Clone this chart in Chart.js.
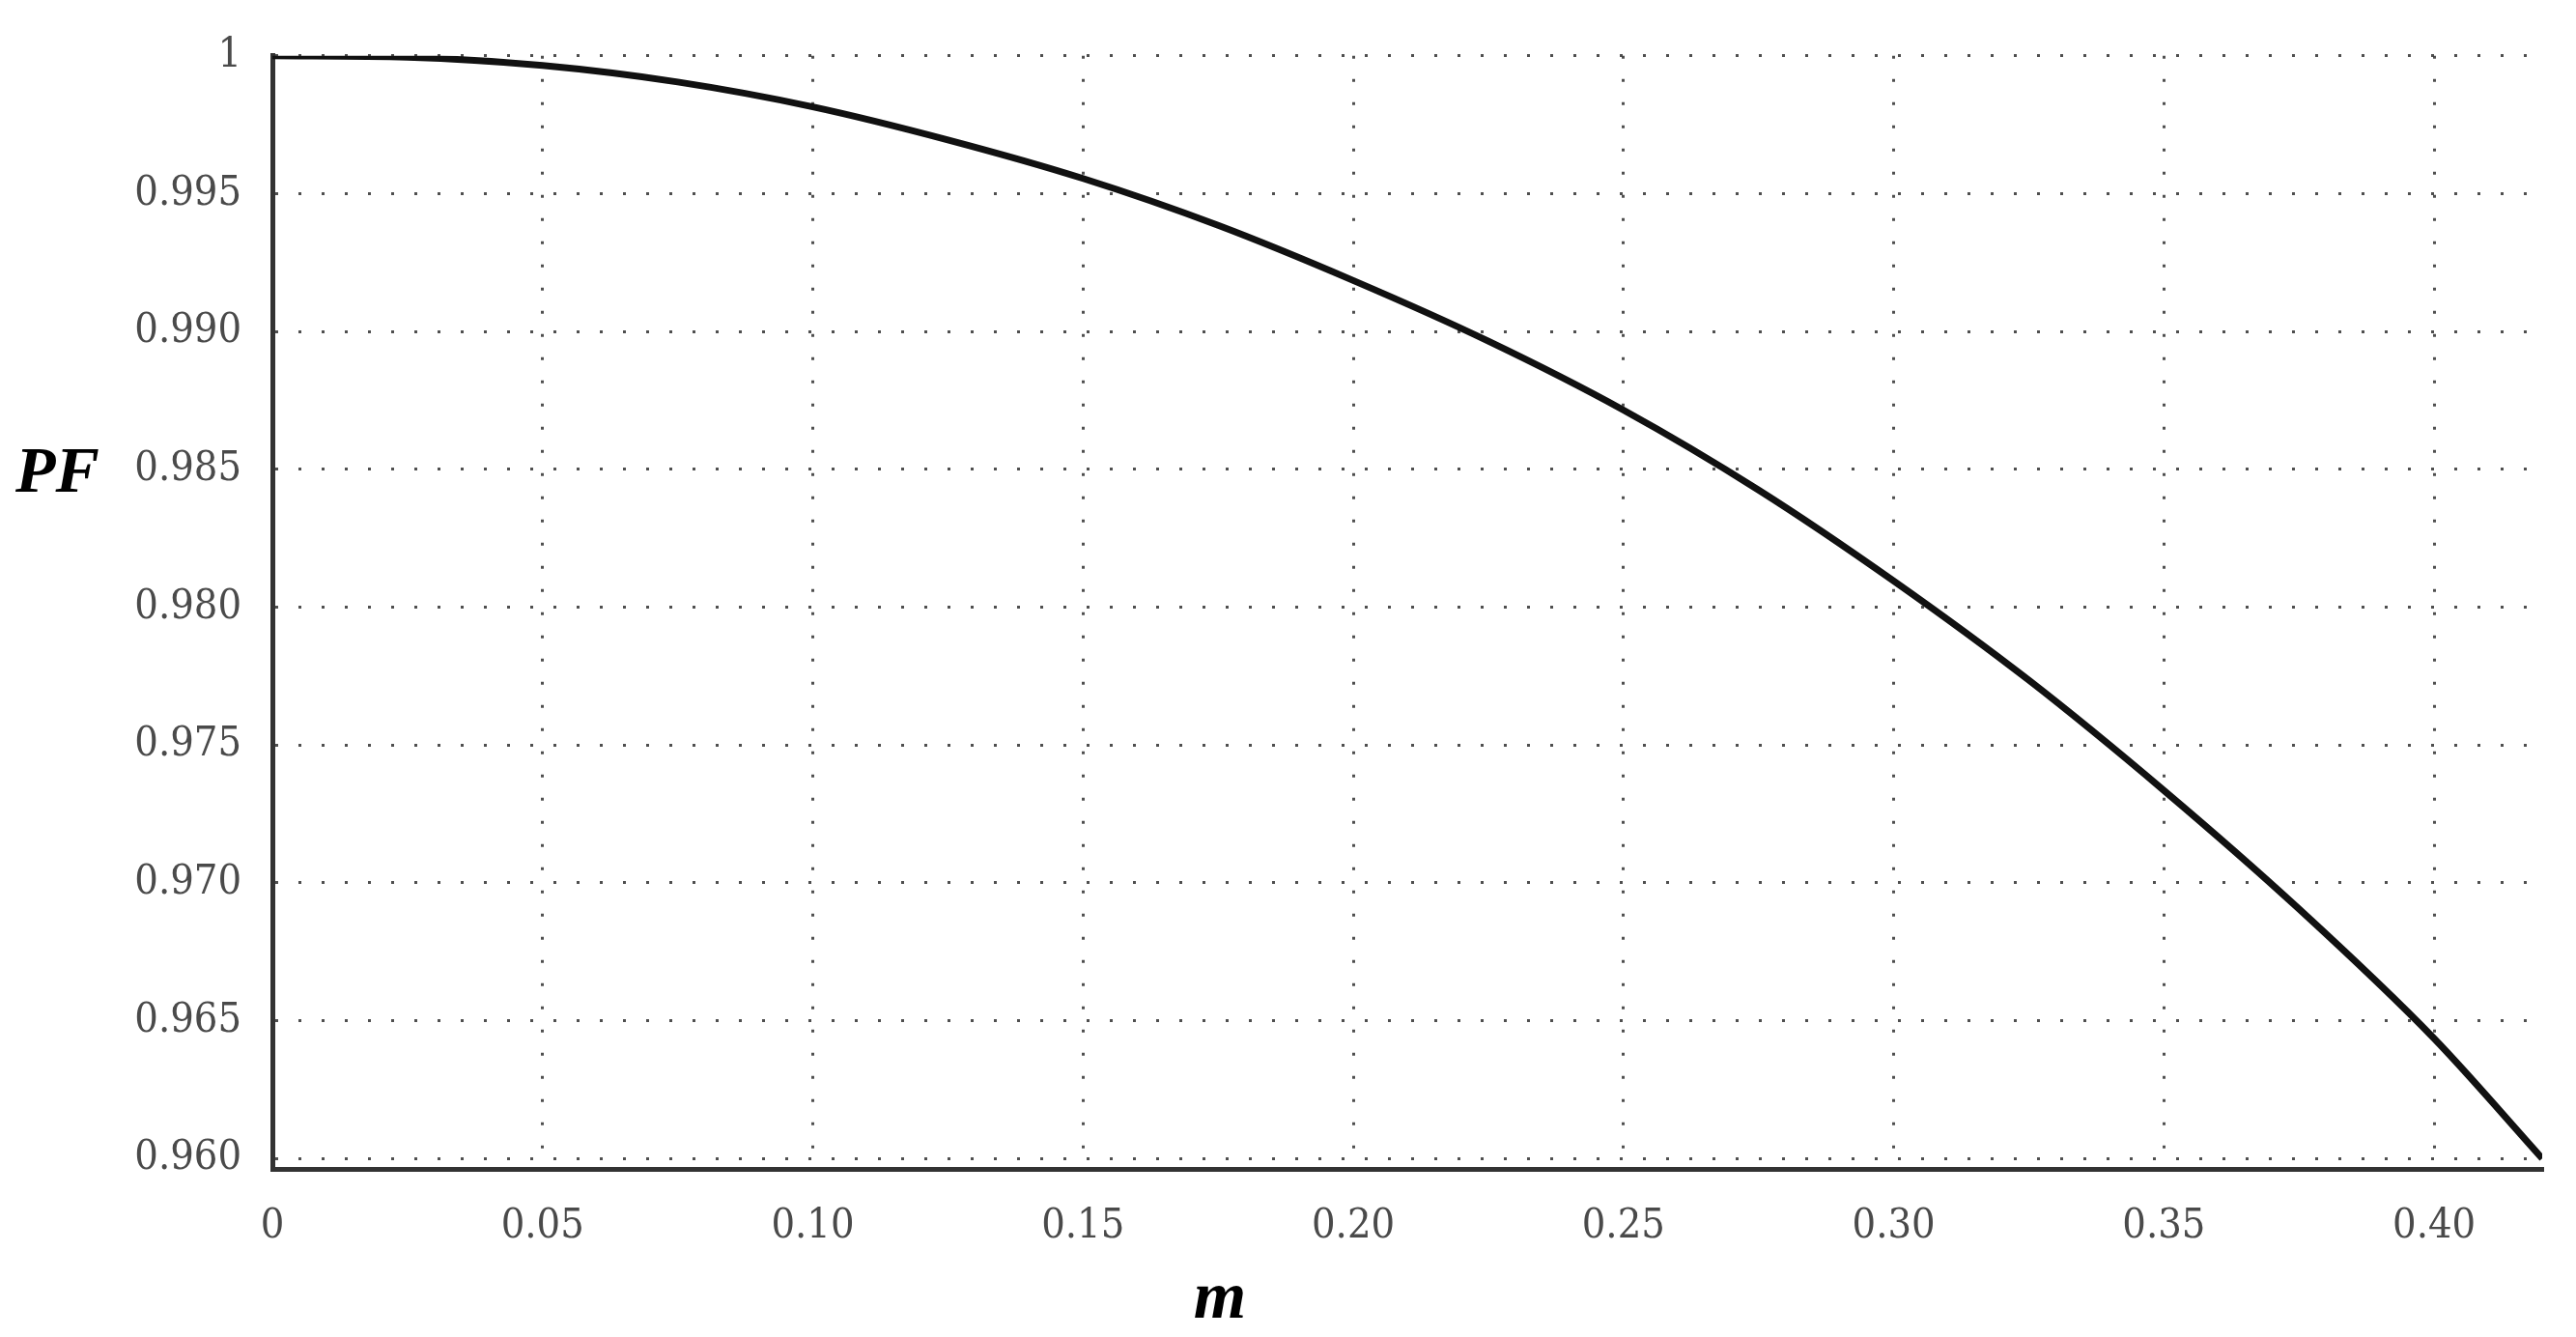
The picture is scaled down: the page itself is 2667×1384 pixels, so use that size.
<!DOCTYPE html>
<html>
<head>
<meta charset="utf-8">
<script src="https://cdn.jsdelivr.net/npm/chart.js@4.4.1/dist/chart.umd.min.js"></script>
<style>
  html, body { margin: 0; padding: 0; background: #fff; }
  #wrap { width: 2667px; height: 1384px; }
</style>
</head>
<body>
<div id="wrap"><canvas id="pfPlot"></canvas></div>
<script>
// PF against m
const mValues  = [0, 0.025, 0.05, 0.075, 0.10, 0.125, 0.15, 0.175, 0.20, 0.225, 0.25, 0.275, 0.30, 0.325, 0.35, 0.375, 0.40, 0.42];
const pfValues = [1.0, 0.99995, 0.99965, 0.99905, 0.99815, 0.99695, 0.99555, 0.99385, 0.99185, 0.98965, 0.98715, 0.98425, 0.98095, 0.97735, 0.97335, 0.96905, 0.96435, 0.9600];

const xTicks = [0, 0.05, 0.10, 0.15, 0.20, 0.25, 0.30, 0.35, 0.40];
const xTickLabels = ['0', '0.05', '0.10', '0.15', '0.20', '0.25', '0.30', '0.35', '0.40'];
const yTicks = [0.960, 0.965, 0.970, 0.975, 0.980, 0.985, 0.990, 0.995, 1.0];
const yTickLabels = ['0.960', '0.965', '0.970', '0.975', '0.980', '0.985', '0.990', '0.995', '1'];

const tickFont = { family: '"DejaVu Serif Condensed", "DejaVu Serif", serif', size: 43 };
const gridStyle = {
    color: 'rgba(60, 60, 60, 0.9)',
    lineWidth: 3,
    drawTicks: false
};
// in v4 the dash of the grid lines lives under "border"
const axisBorder = { display: true, color: '#333', width: 5, dash: [3, 21] };

// axis names sit beside the axes, not rotated
const axisNames = {
    id: 'axisNames',
    afterDraw(chart) {
        const ctx = chart.ctx;
        ctx.save();
        ctx.fillStyle = '#000';
        ctx.textBaseline = 'alphabetic';
        ctx.font = 'italic bold 68px "Liberation Serif"';
        ctx.textAlign = 'left';
        ctx.fillText('PF', 16, 509);
        ctx.font = 'italic bold 70px "Liberation Serif"';
        ctx.textAlign = 'center';
        ctx.fillText('m', 1263, 1364);
        ctx.restore();
    }
};

const ctx = document.getElementById('pfPlot').getContext('2d');
const pfPlot = new Chart(ctx, {
    type: 'line',
    data: {
        datasets: [{
            label: 'PF',
            data: mValues.map((m, i) => ({ x: m, y: pfValues[i] })),
            borderColor: '#111',
            borderWidth: 7,
            pointRadius: 0,
            cubicInterpolationMode: 'monotone',
            fill: false
        }]
    },
    options: {
        responsive: true,
        maintainAspectRatio: false,
        animation: false,
        layout: { padding: { top: 51, right: 35, left: 0, bottom: 0 } },
        scales: {
            x: {
                type: 'linear',
                min: 0,
                max: 0.42,
                afterBuildTicks: (scale) => { scale.ticks = xTicks.map(v => ({ value: v })); },
                afterFit: (scale) => { scale.height = 174; },
                grid: gridStyle,
                border: axisBorder,
                ticks: {
                    font: tickFont,
                    color: '#4a4a4a',
                    padding: 34,
                    maxRotation: 0,
                    callback: (value, index) => xTickLabels[index]
                }
            },
            y: {
                type: 'linear',
                min: 0.95962,
                max: 1.0,
                afterBuildTicks: (scale) => { scale.ticks = yTicks.map(v => ({ value: v })); },
                afterFit: (scale) => { scale.width = 282; },
                grid: gridStyle,
                border: axisBorder,
                ticks: {
                    font: tickFont,
                    color: '#4a4a4a',
                    padding: 32,
                    callback: (value, index) => yTickLabels[index]
                }
            }
        },
        plugins: {
            legend: { display: false },
            tooltip: { enabled: false }
        }
    },
    plugins: [axisNames]
});
</script>
</body>
</html>
